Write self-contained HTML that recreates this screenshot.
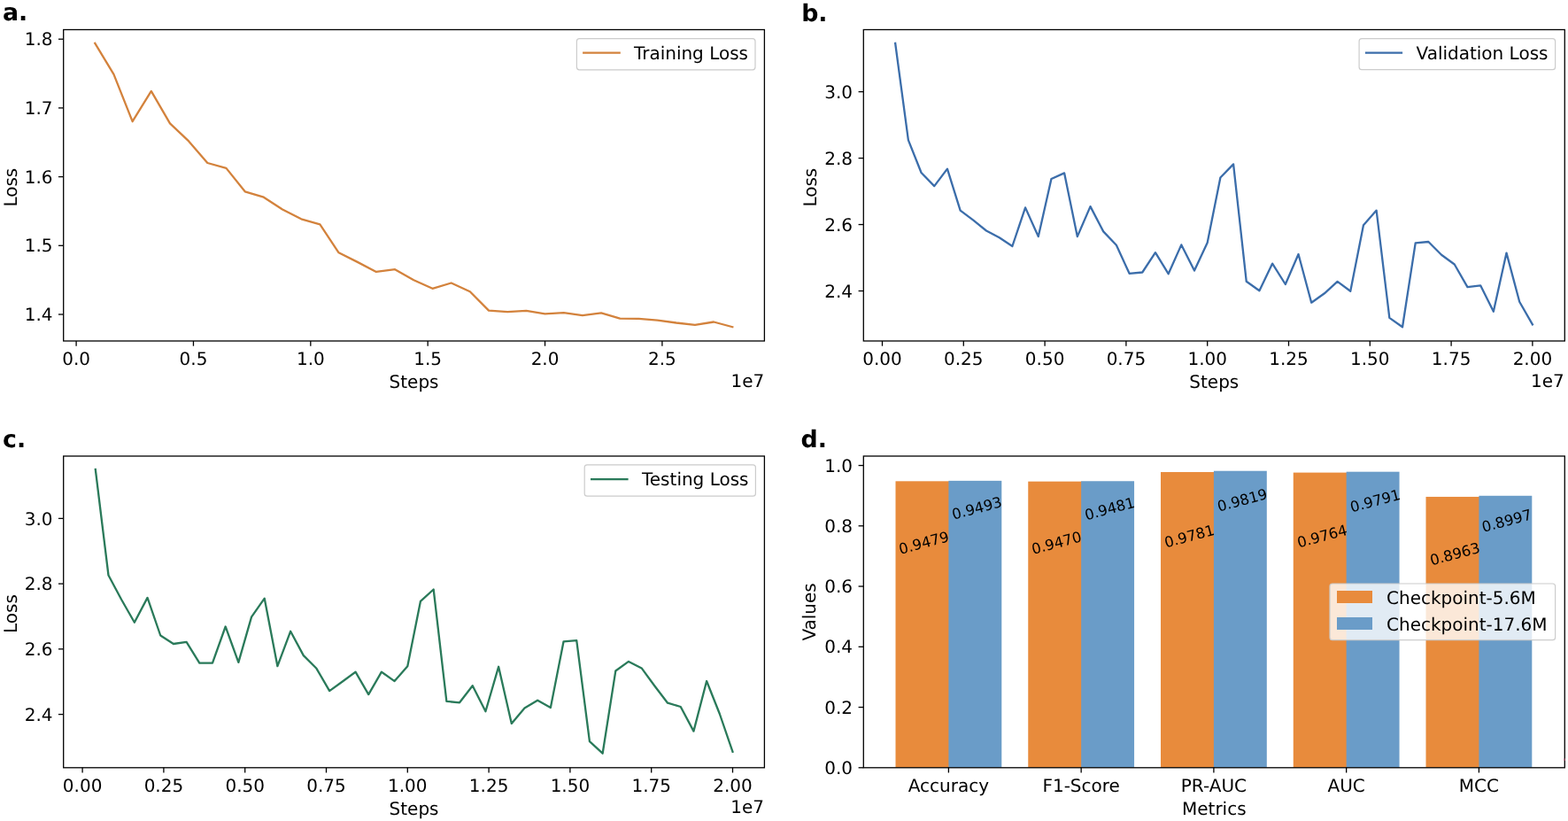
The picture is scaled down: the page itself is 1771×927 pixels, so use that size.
<!DOCTYPE html>
<html><head><meta charset="utf-8"><title>Training curves</title>
<style>html,body{margin:0;padding:0;background:#fff;}svg{display:block;}text{text-rendering:geometricPrecision;}</style>
</head><body>
<svg width="1771" height="927" viewBox="0 0 1771 927" font-family="'DejaVu Sans', 'Liberation Sans', sans-serif" font-size="20.0" fill="#000"><rect width="1771" height="927" fill="#fff"/><g font-weight="bold" font-size="26.8"><text x="3.0" y="23.3">a.</text><text x="905.2" y="23.6">b.</text><text x="3.0" y="504.8">c.</text><text x="904.6" y="504.8">d.</text></g><polyline points="107.28,48.80 128.46,83.90 149.63,137.20 170.81,102.90 191.99,139.40 213.17,159.40 234.34,184.00 255.52,189.90 276.70,216.30 297.88,222.70 319.05,236.50 340.23,247.30 361.41,253.40 382.59,285.30 403.76,295.90 424.94,306.90 446.12,304.20 467.30,316.20 488.47,325.80 509.65,319.50 530.83,329.20 552.01,350.60 573.18,352.20 594.36,350.90 615.54,354.30 636.72,353.10 657.90,356.20 679.07,353.40 700.25,359.60 721.43,359.90 742.61,361.70 763.78,364.50 784.96,366.80 806.14,363.50 827.32,369.20" fill="none" stroke="#D3823C" stroke-width="2.3" stroke-linejoin="round" stroke-linecap="square"/><rect x="71.7" y="33.5" width="791.6999999999999" height="351.5" fill="none" stroke="#000" stroke-width="1.3"/><line x1="66.00" y1="44.20" x2="71.70" y2="44.20" stroke="#000" stroke-width="1.3"/><text x="59.50" y="51.39" text-anchor="end">1.8</text><line x1="66.00" y1="121.90" x2="71.70" y2="121.90" stroke="#000" stroke-width="1.3"/><text x="59.50" y="129.09" text-anchor="end">1.7</text><line x1="66.00" y1="199.60" x2="71.70" y2="199.60" stroke="#000" stroke-width="1.3"/><text x="59.50" y="206.79" text-anchor="end">1.6</text><line x1="66.00" y1="277.30" x2="71.70" y2="277.30" stroke="#000" stroke-width="1.3"/><text x="59.50" y="284.49" text-anchor="end">1.5</text><line x1="66.00" y1="355.00" x2="71.70" y2="355.00" stroke="#000" stroke-width="1.3"/><text x="59.50" y="362.19" text-anchor="end">1.4</text><line x1="86.10" y1="385.00" x2="86.10" y2="390.70" stroke="#000" stroke-width="1.3"/><text x="86.10" y="412.20" text-anchor="middle">0.0</text><line x1="218.46" y1="385.00" x2="218.46" y2="390.70" stroke="#000" stroke-width="1.3"/><text x="218.46" y="412.20" text-anchor="middle">0.5</text><line x1="350.82" y1="385.00" x2="350.82" y2="390.70" stroke="#000" stroke-width="1.3"/><text x="350.82" y="412.20" text-anchor="middle">1.0</text><line x1="483.18" y1="385.00" x2="483.18" y2="390.70" stroke="#000" stroke-width="1.3"/><text x="483.18" y="412.20" text-anchor="middle">1.5</text><line x1="615.54" y1="385.00" x2="615.54" y2="390.70" stroke="#000" stroke-width="1.3"/><text x="615.54" y="412.20" text-anchor="middle">2.0</text><line x1="747.90" y1="385.00" x2="747.90" y2="390.70" stroke="#000" stroke-width="1.3"/><text x="747.90" y="412.20" text-anchor="middle">2.5</text><text x="863.3" y="436.8" text-anchor="end">1e7</text><text x="467.55" y="438.1" text-anchor="middle">Steps</text><text transform="translate(18.5,211.65) rotate(-90)" text-anchor="middle">Loss</text><rect x="651.4" y="43.7" width="201.60000000000002" height="35.099999999999994" rx="3" ry="3" fill="#fff" fill-opacity="0.8" stroke="#cccccc" stroke-width="1.2"/><line x1="658.1" y1="59.7" x2="700.8" y2="59.7" stroke="#D3823C" stroke-width="2.3" stroke-linecap="butt"/><text x="715.9" y="66.8">Training Loss</text><polyline points="1011.19,48.90 1025.88,158.10 1040.56,195.00 1055.25,210.10 1069.94,190.60 1084.63,237.60 1099.32,248.70 1114.00,260.50 1128.69,268.30 1143.38,278.00 1158.07,234.40 1172.76,267.10 1187.44,202.00 1202.13,195.40 1216.82,267.10 1231.51,233.10 1246.20,261.40 1260.88,276.80 1275.57,308.80 1290.26,307.50 1304.95,285.10 1319.64,309.20 1334.32,276.40 1349.01,305.60 1363.70,273.90 1378.39,200.50 1393.08,185.40 1407.76,317.80 1422.45,328.20 1437.14,297.60 1451.83,321.00 1466.52,287.00 1481.20,341.70 1495.89,331.30 1510.58,317.90 1525.27,328.70 1539.96,254.20 1554.64,237.60 1569.33,358.90 1584.02,369.30 1598.71,274.40 1613.40,273.00 1628.08,287.80 1642.77,298.50 1657.46,324.10 1672.15,322.30 1686.84,351.70 1701.52,285.60 1716.21,340.80 1730.90,366.40" fill="none" stroke="#3B6DAA" stroke-width="2.3" stroke-linejoin="round" stroke-linecap="square"/><rect x="975.3" y="33.5" width="792.0" height="351.5" fill="none" stroke="#000" stroke-width="1.3"/><line x1="969.60" y1="103.60" x2="975.30" y2="103.60" stroke="#000" stroke-width="1.3"/><text x="963.00" y="110.79" text-anchor="end">3.0</text><line x1="969.60" y1="178.57" x2="975.30" y2="178.57" stroke="#000" stroke-width="1.3"/><text x="963.00" y="185.76" text-anchor="end">2.8</text><line x1="969.60" y1="253.54" x2="975.30" y2="253.54" stroke="#000" stroke-width="1.3"/><text x="963.00" y="260.73" text-anchor="end">2.6</text><line x1="969.60" y1="328.51" x2="975.30" y2="328.51" stroke="#000" stroke-width="1.3"/><text x="963.00" y="335.70" text-anchor="end">2.4</text><line x1="996.50" y1="385.00" x2="996.50" y2="390.70" stroke="#000" stroke-width="1.3"/><text x="996.50" y="412.20" text-anchor="middle">0.00</text><line x1="1088.30" y1="385.00" x2="1088.30" y2="390.70" stroke="#000" stroke-width="1.3"/><text x="1088.30" y="412.20" text-anchor="middle">0.25</text><line x1="1180.10" y1="385.00" x2="1180.10" y2="390.70" stroke="#000" stroke-width="1.3"/><text x="1180.10" y="412.20" text-anchor="middle">0.50</text><line x1="1271.90" y1="385.00" x2="1271.90" y2="390.70" stroke="#000" stroke-width="1.3"/><text x="1271.90" y="412.20" text-anchor="middle">0.75</text><line x1="1363.70" y1="385.00" x2="1363.70" y2="390.70" stroke="#000" stroke-width="1.3"/><text x="1363.70" y="412.20" text-anchor="middle">1.00</text><line x1="1455.50" y1="385.00" x2="1455.50" y2="390.70" stroke="#000" stroke-width="1.3"/><text x="1455.50" y="412.20" text-anchor="middle">1.25</text><line x1="1547.30" y1="385.00" x2="1547.30" y2="390.70" stroke="#000" stroke-width="1.3"/><text x="1547.30" y="412.20" text-anchor="middle">1.50</text><line x1="1639.10" y1="385.00" x2="1639.10" y2="390.70" stroke="#000" stroke-width="1.3"/><text x="1639.10" y="412.20" text-anchor="middle">1.75</text><line x1="1730.90" y1="385.00" x2="1730.90" y2="390.70" stroke="#000" stroke-width="1.3"/><text x="1730.90" y="412.20" text-anchor="middle">2.00</text><text x="1766.8" y="436.6" text-anchor="end">1e7</text><text x="1371.3" y="438.1" text-anchor="middle">Steps</text><text transform="translate(922.2,211.65) rotate(-90)" text-anchor="middle">Loss</text><rect x="1535.1" y="43.7" width="221.5" height="35.0" rx="3" ry="3" fill="#fff" fill-opacity="0.8" stroke="#cccccc" stroke-width="1.2"/><line x1="1541.9" y1="59.7" x2="1584.1" y2="59.7" stroke="#3B6DAA" stroke-width="2.3" stroke-linecap="butt"/><text x="1599.5" y="66.8">Validation Loss</text><polyline points="107.79,530.00 122.48,649.50 137.16,677.00 151.85,702.80 166.54,674.90 181.23,717.50 195.92,727.00 210.60,724.80 225.29,748.60 239.98,748.60 254.67,707.50 269.36,747.90 284.04,696.60 298.73,675.70 313.42,752.20 328.11,712.80 342.80,740.10 357.48,754.80 372.17,780.10 386.86,769.50 401.55,758.70 416.24,784.10 430.92,758.70 445.61,769.10 460.30,752.20 474.99,678.80 489.68,665.50 504.36,791.90 519.05,793.30 533.74,774.20 548.43,803.30 563.12,752.80 577.80,816.90 592.49,799.50 607.18,790.70 621.87,799.00 636.56,724.30 651.24,723.10 665.93,837.10 680.62,850.70 695.31,757.50 710.00,746.90 724.68,754.40 739.37,774.50 754.06,793.70 768.75,798.00 783.44,825.60 798.12,769.00 812.81,806.00 827.50,848.80" fill="none" stroke="#2A7A5A" stroke-width="2.3" stroke-linejoin="round" stroke-linecap="square"/><rect x="71.7" y="515.0" width="791.6999999999999" height="351.79999999999995" fill="none" stroke="#000" stroke-width="1.3"/><line x1="66.00" y1="585.40" x2="71.70" y2="585.40" stroke="#000" stroke-width="1.3"/><text x="59.50" y="592.59" text-anchor="end">3.0</text><line x1="66.00" y1="659.13" x2="71.70" y2="659.13" stroke="#000" stroke-width="1.3"/><text x="59.50" y="666.32" text-anchor="end">2.8</text><line x1="66.00" y1="732.86" x2="71.70" y2="732.86" stroke="#000" stroke-width="1.3"/><text x="59.50" y="740.05" text-anchor="end">2.6</text><line x1="66.00" y1="806.59" x2="71.70" y2="806.59" stroke="#000" stroke-width="1.3"/><text x="59.50" y="813.78" text-anchor="end">2.4</text><line x1="93.10" y1="866.80" x2="93.10" y2="872.50" stroke="#000" stroke-width="1.3"/><text x="93.10" y="893.70" text-anchor="middle">0.00</text><line x1="184.90" y1="866.80" x2="184.90" y2="872.50" stroke="#000" stroke-width="1.3"/><text x="184.90" y="893.70" text-anchor="middle">0.25</text><line x1="276.70" y1="866.80" x2="276.70" y2="872.50" stroke="#000" stroke-width="1.3"/><text x="276.70" y="893.70" text-anchor="middle">0.50</text><line x1="368.50" y1="866.80" x2="368.50" y2="872.50" stroke="#000" stroke-width="1.3"/><text x="368.50" y="893.70" text-anchor="middle">0.75</text><line x1="460.30" y1="866.80" x2="460.30" y2="872.50" stroke="#000" stroke-width="1.3"/><text x="460.30" y="893.70" text-anchor="middle">1.00</text><line x1="552.10" y1="866.80" x2="552.10" y2="872.50" stroke="#000" stroke-width="1.3"/><text x="552.10" y="893.70" text-anchor="middle">1.25</text><line x1="643.90" y1="866.80" x2="643.90" y2="872.50" stroke="#000" stroke-width="1.3"/><text x="643.90" y="893.70" text-anchor="middle">1.50</text><line x1="735.70" y1="866.80" x2="735.70" y2="872.50" stroke="#000" stroke-width="1.3"/><text x="735.70" y="893.70" text-anchor="middle">1.75</text><line x1="827.50" y1="866.80" x2="827.50" y2="872.50" stroke="#000" stroke-width="1.3"/><text x="827.50" y="893.70" text-anchor="middle">2.00</text><text x="863.0" y="918.0" text-anchor="end">1e7</text><text x="467.55" y="919.5" text-anchor="middle">Steps</text><text transform="translate(18.5,693.1) rotate(-90)" text-anchor="middle">Loss</text><rect x="660.2" y="524.8" width="193.19999999999993" height="35.40000000000009" rx="3" ry="3" fill="#fff" fill-opacity="0.8" stroke="#cccccc" stroke-width="1.2"/><line x1="667.0" y1="541.1" x2="709.6" y2="541.1" stroke="#2A7A5A" stroke-width="2.3" stroke-linecap="butt"/><text x="725.0" y="548.1">Testing Loss</text><rect x="1011.50" y="543.33" width="60.90" height="323.47" fill="#E88B3C"/><rect x="1071.40" y="542.85" width="59.90" height="323.95" fill="#6A9CC8"/><rect x="1161.25" y="543.64" width="60.90" height="323.16" fill="#E88B3C"/><rect x="1221.15" y="543.26" width="59.90" height="323.54" fill="#6A9CC8"/><rect x="1311.00" y="533.02" width="60.90" height="333.78" fill="#E88B3C"/><rect x="1370.90" y="531.73" width="59.90" height="335.07" fill="#6A9CC8"/><rect x="1460.75" y="533.60" width="60.90" height="333.20" fill="#E88B3C"/><rect x="1520.65" y="532.68" width="59.90" height="334.12" fill="#6A9CC8"/><rect x="1610.50" y="560.94" width="60.90" height="305.86" fill="#E88B3C"/><rect x="1670.40" y="559.78" width="59.90" height="307.02" fill="#6A9CC8"/><rect x="975.3" y="515.0" width="792.0" height="351.79999999999995" fill="none" stroke="#000" stroke-width="1.3"/><line x1="969.60" y1="866.80" x2="975.30" y2="866.80" stroke="#000" stroke-width="1.3"/><text x="963.00" y="873.99" text-anchor="end">0.0</text><line x1="969.60" y1="798.55" x2="975.30" y2="798.55" stroke="#000" stroke-width="1.3"/><text x="963.00" y="805.74" text-anchor="end">0.2</text><line x1="969.60" y1="730.30" x2="975.30" y2="730.30" stroke="#000" stroke-width="1.3"/><text x="963.00" y="737.49" text-anchor="end">0.4</text><line x1="969.60" y1="662.05" x2="975.30" y2="662.05" stroke="#000" stroke-width="1.3"/><text x="963.00" y="669.24" text-anchor="end">0.6</text><line x1="969.60" y1="593.80" x2="975.30" y2="593.80" stroke="#000" stroke-width="1.3"/><text x="963.00" y="600.99" text-anchor="end">0.8</text><line x1="969.60" y1="525.55" x2="975.30" y2="525.55" stroke="#000" stroke-width="1.3"/><text x="963.00" y="532.74" text-anchor="end">1.0</text><line x1="1071.40" y1="866.80" x2="1071.40" y2="872.50" stroke="#000" stroke-width="1.3"/><text x="1071.40" y="893.70" text-anchor="middle">Accuracy</text><line x1="1221.15" y1="866.80" x2="1221.15" y2="872.50" stroke="#000" stroke-width="1.3"/><text x="1221.15" y="893.70" text-anchor="middle">F1-Score</text><line x1="1370.90" y1="866.80" x2="1370.90" y2="872.50" stroke="#000" stroke-width="1.3"/><text x="1370.90" y="893.70" text-anchor="middle">PR-AUC</text><line x1="1520.65" y1="866.80" x2="1520.65" y2="872.50" stroke="#000" stroke-width="1.3"/><text x="1520.65" y="893.70" text-anchor="middle">AUC</text><line x1="1670.40" y1="866.80" x2="1670.40" y2="872.50" stroke="#000" stroke-width="1.3"/><text x="1670.40" y="893.70" text-anchor="middle">MCC</text><text x="1371.3" y="919.5" text-anchor="middle">Metrics</text><text transform="translate(920.9,690.9) rotate(-90)" text-anchor="middle">Values</text><g font-size="16.5"><text transform="translate(1043.40,612.60) rotate(-15)" text-anchor="middle" dy="0.3645em">0.9479</text><text transform="translate(1103.30,573.50) rotate(-15)" text-anchor="middle" dy="0.3645em">0.9493</text><text transform="translate(1193.20,612.80) rotate(-15)" text-anchor="middle" dy="0.3645em">0.9470</text><text transform="translate(1253.20,574.10) rotate(-15)" text-anchor="middle" dy="0.3645em">0.9481</text><text transform="translate(1343.20,605.30) rotate(-15)" text-anchor="middle" dy="0.3645em">0.9781</text><text transform="translate(1403.00,564.50) rotate(-15)" text-anchor="middle" dy="0.3645em">0.9819</text><text transform="translate(1493.20,605.30) rotate(-15)" text-anchor="middle" dy="0.3645em">0.9764</text><text transform="translate(1553.10,565.20) rotate(-15)" text-anchor="middle" dy="0.3645em">0.9791</text><text transform="translate(1643.20,625.30) rotate(-15)" text-anchor="middle" dy="0.3645em">0.8963</text><text transform="translate(1701.70,587.70) rotate(-15)" text-anchor="middle" dy="0.3645em">0.8997</text></g><rect x="1502" y="659" width="254.6" height="63.7" rx="3" ry="3" fill="#fff" fill-opacity="0.8" stroke="#cccccc" stroke-width="1.2"/><rect x="1510" y="667" width="40" height="14" fill="#E88B3C"/><rect x="1510" y="697" width="40" height="14" fill="#6A9CC8"/><text x="1566" y="682">Checkpoint-5.6M</text><text x="1566" y="712">Checkpoint-17.6M</text><rect x="1766.4" y="856.4" width="1.4" height="2.6" fill="#c8507a" fill-opacity="0.6"/></svg>
</body></html>
